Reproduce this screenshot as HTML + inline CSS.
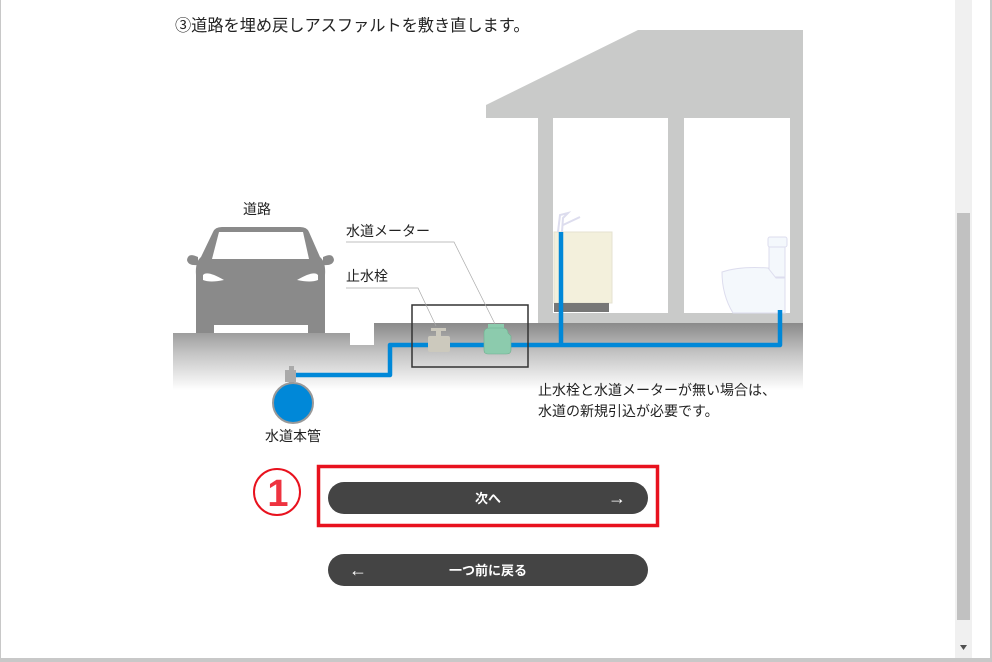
<!DOCTYPE html>
<html><head><meta charset="utf-8"><style>
html,body{margin:0;padding:0;}
body{width:992px;height:662px;overflow:hidden;background:#fff;font-family:"Liberation Sans","Noto Sans CJK JP",sans-serif;position:relative;}
.frame{position:absolute;left:0;top:0;width:989px;height:658px;border-right:3px solid #c8c8c8;border-bottom:4px solid #c8c8c8;border-left:1px solid #c8c8c8;box-sizing:content-box;}
</style></head><body>
<div class="frame"></div>
<svg width="992" height="662" style="position:absolute;left:0;top:0" font-family="Liberation Sans, Noto Sans CJK JP, sans-serif">
<defs>
<linearGradient id="g" x1="0" y1="0" x2="0" y2="1">
<stop offset="0" stop-color="#8a8a8a"/><stop offset="0.45" stop-color="#c4c4c4"/><stop offset="1" stop-color="#ffffff"/>
</linearGradient>
</defs>
<text x="175" y="31" font-size="16.2" fill="#222">③道路を埋め戻しアスファルトを敷き直します。</text>
<polygon points="486,105 638,30 803,30 803,323 486,323 486,118" fill="#c9cac9"/>
<rect x="486" y="118" width="52" height="205" fill="#fff"/>
<rect x="553" y="118" width="115" height="195" fill="#fff"/>
<rect x="684" y="118" width="106" height="195" fill="#fff"/>
<path d="M173,333 L350,333 L350,345 L374,345 L374,323 L803,323 L803,390 L173,390 Z" fill="url(#g)"/>
<rect x="554" y="232" width="58" height="71" fill="#f3f0dc" stroke="#e4e2d0"/>
<rect x="554" y="303" width="55" height="9" fill="#777"/>
<path d="M558,232 L560,215 L568,213 L563,218 L562,232 M563,225 L580,217" stroke="#dde" stroke-width="2" fill="none"/>
<rect x="768" y="237" width="19" height="10" rx="2" fill="#f4f8fc" stroke="#dde"/>
<rect x="769" y="247" width="16" height="30" fill="#f4f8fc" stroke="#dde"/>
<path d="M722,272 Q740,266 768,268 L776,278 L785,278 L785,313 L733,313 Q722,295 722,272 Z" fill="#f4f8fc" stroke="#dde"/>
<path d="M213,232 Q215,227 222,227 L300,227 Q307,227 309,232 L320,257 Q326,262 325,275 L325,333 L308,333 L308,325 L214,325 L214,333 L196,333 L196,275 Q195,262 201,257 Z" fill="#8a8a8a"/>
<path d="M198,257 Q188,252 187,260 Q188,266 198,265 Z M323,257 Q333,252 334,260 Q333,266 323,265 Z" fill="#8a8a8a"/>
<path d="M219,232 L303,232 L309,259 L212,259 Z" fill="#fff"/>
<path d="M203,275 Q207,270 224,280 Q210,283 203,280 Z M318,275 Q314,270 297,280 Q311,283 318,280 Z" fill="#fff"/>
<path d="M296,375 L390,375 L390,345 L780,345 L780,310" stroke="#0088d8" stroke-width="4.5" fill="none" stroke-linejoin="round"/>
<line x1="561" y1="232" x2="561" y2="345" stroke="#0088d8" stroke-width="4.5"/>
<rect x="285" y="370" width="11" height="12" fill="#aaa"/>
<rect x="289" y="366" width="5" height="20" fill="#aaa"/>
<circle cx="293" cy="403" r="20" fill="#0088d8" stroke="#999" stroke-width="2"/>
<rect x="412" y="305" width="116" height="62" fill="none" stroke="#333" stroke-width="1.5"/>
<rect x="431" y="328" width="15" height="3" fill="#ccc9bd"/>
<rect x="436" y="330" width="5" height="8" fill="#ccc9bd"/>
<rect x="428" y="336" width="22" height="16" rx="2" fill="#ccc9bd"/>
<rect x="488" y="324" width="16" height="5" fill="#8ccbad"/>
<path d="M484,333 Q484,328 490,328 L502,328 Q508,328 508,333 L511,336 L511,350 Q511,354 506,354 L488,354 Q484,354 484,350 Z" fill="#8ccbad" stroke="#6fb08f" stroke-width="0.6"/>
<polyline points="346,288 418,288 436,326" stroke="#aaa" stroke-width="0.7" fill="none"/>
<polyline points="346,242 454,242 495,324" stroke="#aaa" stroke-width="0.7" fill="none"/>
<text x="243" y="214" font-size="14" fill="#222">道路</text>
<text x="346" y="236" font-size="14" fill="#222">水道メーター</text>
<text x="346" y="281" font-size="14" fill="#222">止水栓</text>
<text x="265" y="441" font-size="14" fill="#222">水道本管</text>
<text x="538" y="395" font-size="14" fill="#222">止水栓と水道メーターが無い場合は、</text>
<text x="538" y="416" font-size="14" fill="#222">水道の新規引込が必要です。</text>
<circle cx="277" cy="492" r="23" fill="#fff" stroke="#e8121e" stroke-width="2"/>
<text x="278" y="506" font-size="38" font-weight="bold" fill="#ee3340" text-anchor="middle">1</text>
<rect x="318.5" y="466.5" width="339" height="59" fill="none" stroke="#e8121e" stroke-width="3.5"/>
<rect x="328" y="482" width="320" height="32" rx="16" fill="#444"/>
<text x="488" y="503" font-size="13" font-weight="bold" fill="#fff" text-anchor="middle">次へ</text>
<text x="617" y="504" font-size="18" font-weight="bold" fill="#fff" text-anchor="middle">→</text>
<rect x="328" y="554" width="320" height="32" rx="16" fill="#444"/>
<text x="488" y="575" font-size="13" font-weight="bold" fill="#fff" text-anchor="middle">一つ前に戻る</text>
<text x="358" y="576" font-size="18" font-weight="bold" fill="#fff" text-anchor="middle">←</text>
<rect x="955" y="0" width="17" height="658" fill="#f0f0f0"/>
<rect x="957" y="213" width="13" height="407" fill="#c1c1c1"/>
<polygon points="960,645 967,645 963.5,650" fill="#505050"/>
</svg>
</body></html>
